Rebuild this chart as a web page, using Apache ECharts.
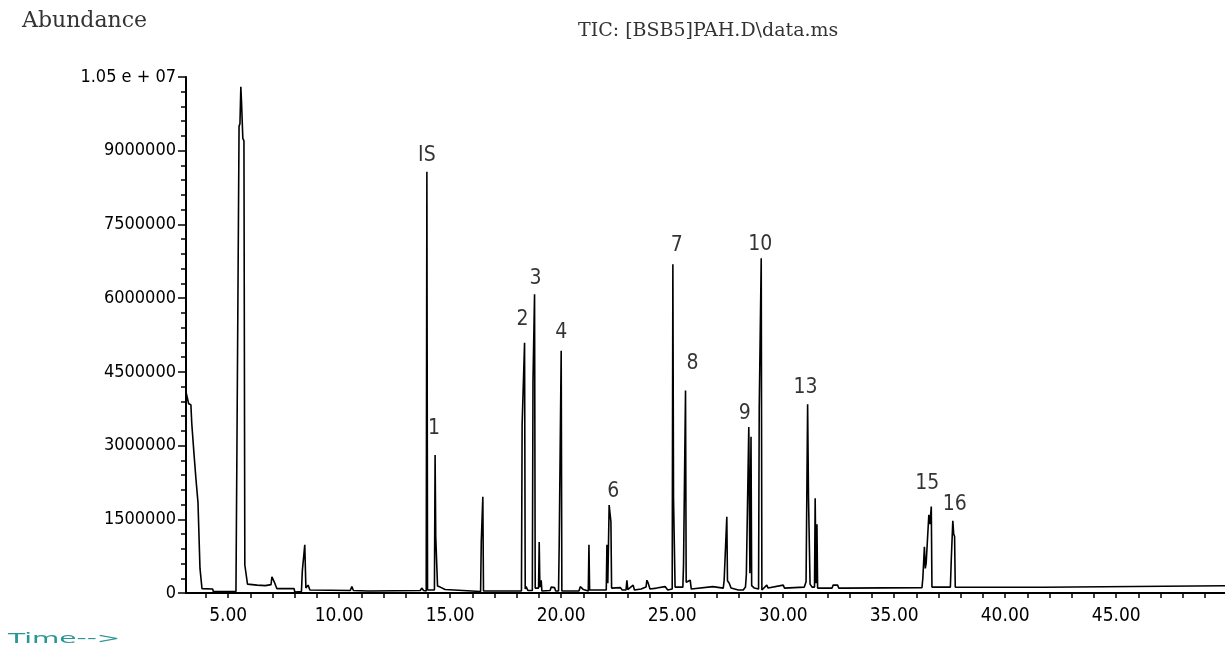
<!DOCTYPE html>
<html>
<head>
<meta charset="utf-8">
<script src="https://cdn.jsdelivr.net/npm/echarts@6/dist/echarts.min.js"></script>
<style>
  html, body { margin: 0; padding: 0; background: #fff; }
  #chart { width: 1225px; height: 650px; }
</style>
</head>
<body>
<div id="chart"></div>
<script>
// TIC trace: retention time (min) and abundance
const times = [
  3.10, 3.17, 3.22, 3.32, 3.36, 3.41, 3.46, 3.51, 3.55, 3.59, 3.64, 3.69, 3.73, 3.78, 3.82, 4.30, 4.33,
  5.35, 5.39, 5.45, 5.49, 5.53, 5.57, 5.60, 5.63, 5.66, 5.71, 5.75, 5.80, 5.87,
  6.30, 6.67, 6.93, 6.97, 7.04, 7.10, 7.19, 7.97, 8.00, 8.30, 8.34, 8.40, 8.45, 8.50, 8.60, 8.68,
  10.50, 10.57, 10.64, 11.30, 11.35, 11.40, 13.65, 13.72, 13.80,
  13.92, 13.95, 13.98, 14.29, 14.32, 14.35, 14.40, 14.43, 14.55, 14.77, 14.85,
  16.37, 16.40, 16.44, 16.47, 16.50,
  18.21, 18.24, 18.31, 18.35, 18.38, 18.42, 18.50, 18.70, 18.73, 18.77, 18.80, 18.83,
  18.98, 19.01, 19.04, 19.08, 19.10, 19.13, 19.50, 19.55, 19.70, 19.75,
  19.88, 19.91, 19.97, 20.00, 20.03, 20.80, 20.86, 21.00, 21.22, 21.25, 21.28,
  22.03, 22.06, 22.10, 22.16, 22.20, 22.24, 22.27, 22.36, 22.66, 22.75, 22.92, 22.96, 23.00,
  23.24, 23.30, 23.60, 23.82, 23.86, 23.92, 24.00, 24.30, 24.68, 24.80,
  25.00, 25.03, 25.06, 25.10, 25.13, 25.48, 25.51, 25.57, 25.60, 25.63, 25.72, 25.81, 25.86,
  26.83, 26.88, 27.30, 27.34, 27.43, 27.46, 27.49, 27.57, 27.65, 27.98, 28.20,
  28.30, 28.34, 28.42, 28.45, 28.50, 28.55, 28.58, 28.70, 28.89, 28.92, 28.98, 29.01, 29.04,
  29.26, 29.32, 30.00, 30.06, 30.95, 31.03, 31.10, 31.14, 31.18, 31.21, 31.30,
  31.41, 31.44, 31.48, 31.52, 31.55, 32.20, 32.25, 32.45, 32.50, 32.76, 32.79, 32.84,
  36.25, 36.29, 36.36, 36.40, 36.44, 36.50, 36.56, 36.61, 36.67, 36.70,
  37.53, 37.57, 37.60, 37.64, 37.68, 37.72, 37.75, 41.73, 41.76, 49.90
]
const abundance = [
  4.09e6, 4.12e6, 3.85e6, 3.83e6, 3.45e6, 3.44e6, 2.83e6, 2.82e6, 2.31e6, 2.30e6, 1.84e6, 1.83e6, 0.50e6, 0.49e6, 0.09e6, 0.08e6, 0.03e6,
  0.03e6, 2.67e6, 2.70e6, 9.50e6, 9.55e6, 1.03e7, 1.00e7, 9.99e6, 9.25e6, 9.20e6, 0.57e6, 0.55e6, 0.18e6,
  0.16e6, 0.15e6, 0.17e6, 0.33e6, 0.32e6, 0.20e6, 0.09e6, 0.09e6, 0.02e6, 0.03e6, 0.45e6, 0.46e6, 0.98e6, 0.10e6, 0.16e6, 0.06e6,
  0.05e6, 0.13e6, 0.05e6, 0.04e6, 0.08e6, 0.04e6, 0.05e6, 0.10e6, 0.05e6,
  0.04e6, 8.57e6, 0.06e6, 0.06e6, 2.81e6, 1.14e6, 1.13e6, 0.14e6, 0.12e6, 0.07e6, 0.03e6,
  0.03e6, 1.04e6, 1.03e6, 1.96e6, 0.04e6,
  0.04e6, 3.42e6, 3.40e6, 5.09e6, 0.08e6, 0.13e6, 0.05e6, 0.05e6, 4.32e6, 4.30e6, 6.08e6, 0.10e6,
  0.10e6, 1.04e6, 0.12e6, 0.12e6, 0.26e6, 0.04e6, 0.05e6, 0.12e6, 0.11e6, 0.04e6,
  0.04e6, 0.98e6, 0.97e6, 4.93e6, 0.04e6, 0.04e6, 0.13e6, 0.07e6, 0.04e6, 0.98e6, 0.06e6,
  0.06e6, 0.98e6, 0.20e6, 1.79e6, 1.76e6, 1.45e6, 0.10e6, 0.12e6, 0.11e6, 0.06e6, 0.06e6, 0.26e6, 0.07e6,
  0.16e6, 0.06e6, 0.08e6, 0.12e6, 0.26e6, 0.20e6, 0.08e6, 0.10e6, 0.13e6, 0.06e6,
  0.08e6, 6.69e6, 1.91e6, 1.90e6, 0.12e6, 0.12e6, 0.57e6, 0.55e6, 4.12e6, 0.22e6, 0.20e6, 0.26e6, 0.08e6,
  0.13e6, 0.10e6, 0.10e6, 0.26e6, 0.26e6, 1.55e6, 0.25e6, 0.20e6, 0.10e6, 0.06e6, 0.06e6,
  0.12e6, 0.37e6, 0.37e6, 3.38e6, 0.40e6, 3.18e6, 0.15e6, 0.10e6, 0.08e6, 3.76e6, 3.75e6, 6.81e6, 0.06e6,
  0.16e6, 0.10e6, 0.16e6, 0.10e6, 0.12e6, 0.23e6, 3.84e6, 1.93e6, 1.92e6, 0.18e6, 0.12e6,
  0.12e6, 1.93e6, 0.20e6, 1.40e6, 0.10e6, 0.10e6, 0.16e6, 0.16e6, 0.10e6, 0.10e6, 0.14e6, 0.10e6,
  0.11e6, 0.30e6, 0.94e6, 0.50e6, 0.61e6, 0.62e6, 1.59e6, 1.40e6, 1.76e6, 0.12e6,
  0.12e6, 0.67e6, 0.66e6, 1.47e6, 1.20e6, 1.15e6, 0.12e6, 0.116e6, 0.149e6, 0.149e6
]

// peak annotations
const peakNames = ['IS', '1', '2', '3', '4', '6', '7', '8', '9', '10', '13', '15', '16']
const peakTimes = [13.95, 14.32, 18.35, 18.80, 20.00, 22.16, 25.03, 25.60, 28.45, 29.01, 31.10, 36.67, 37.64]
const peakTops = [8.57e6, 2.81e6, 5.09e6, 6.08e6, 4.93e6, 1.79e6, 6.69e6, 4.12e6, 3.38e6, 6.81e6, 3.84e6, 1.76e6, 1.47e6]
// label nudges in px (style only)
const labelNudge = [[0, -16], [-1, -26], [-2, -23], [1, -16], [0, -18], [4, -13], [4, -19], [7, -27], [-4, -13], [-1, -14], [-2, -17], [-4, -23], [2, -16]]

const xLabelTicks = [5, 10, 15, 20, 25, 30, 35, 40, 45]
const xMinorTicks = [4, 5, 6, 7, 8, 9, 10, 11, 12, 13, 14, 15, 16, 17, 18, 19, 20, 21, 22, 23, 24, 25, 26, 27,
  28, 29, 30, 31, 32, 33, 34, 35, 36, 37, 38, 39, 40, 41, 42, 43, 44, 45, 46, 47, 48, 49]

const narrow = '"Liberation Sans Narrow", "DejaVu Sans Condensed", "Liberation Sans", sans-serif'

const chart = echarts.init(document.getElementById('chart'))

const trace = times.map((t, i) => [t, abundance[i]])
const marks = peakNames.map((n, i) => ({
  name: n,
  value: [peakTimes[i], peakTops[i]],
  label: { offset: labelNudge[i] }
}))

chart.setOption({
  animation: false,
  backgroundColor: '#fff',
  grid: { left: 186, right: 0, top: 77, bottom: 57, outerBoundsMode: 'none' },
  graphic: [
    {
      type: 'text', left: 22, top: 10,
      style: { text: 'Abundance', font: '22px "DejaVu Serif", serif', fill: '#333' }
    },
    {
      type: 'text', left: 578, top: 22,
      style: { text: 'TIC: [BSB5]PAH.D\\data.ms', font: '19px "DejaVu Serif", serif', fill: '#333' }
    },
    {
      type: 'text', x: 8, y: 632, scaleX: 2.0,
      style: { text: 'Time-->', font: '14px "DejaVu Sans", sans-serif', fill: '#2a9595' }
    }
  ],
  xAxis: {
    type: 'value',
    min: 3.1,
    max: 49.9,
    splitLine: { show: false },
    axisLine: { lineStyle: { color: '#000', width: 2 } },
    axisTick: { customValues: xMinorTicks, length: 5, lineStyle: { color: '#000', width: 1.5 } },
    axisLabel: {
      customValues: xLabelTicks,
      formatter: v => v.toFixed(2),
      margin: 14,
      color: '#000',
      fontFamily: narrow,
      fontSize: 19
    }
  },
  yAxis: {
    type: 'value',
    min: 0,
    max: 10500000,
    interval: 1500000,
    splitLine: { show: false },
    axisLine: { show: true, lineStyle: { color: '#000', width: 2 } },
    axisTick: { show: true, length: 8, lineStyle: { color: '#000', width: 1.5 } },
    minorTick: { show: true, splitNumber: 5, length: 5, lineStyle: { color: '#000', width: 1.5 } },
    axisLabel: {
      formatter: v => (v === 10500000 ? '1.05 e + 07' : String(v)),
      margin: 10,
      color: '#000',
      fontFamily: narrow,
      fontSize: 18
    }
  },
  series: [
    {
      type: 'line',
      data: trace,
      showSymbol: false,
      lineStyle: { color: '#000', width: 1.6 },
      z: 2
    },
    {
      type: 'scatter',
      data: marks,
      symbolSize: 1,
      itemStyle: { color: 'rgba(0,0,0,0)' },
      label: {
        show: true,
        position: 'inside',
        formatter: p => p.name,
        color: '#000',
        fontFamily: narrow,
        fontSize: 21
      },
      z: 3
    }
  ]
})
</script>
</body>
</html>
